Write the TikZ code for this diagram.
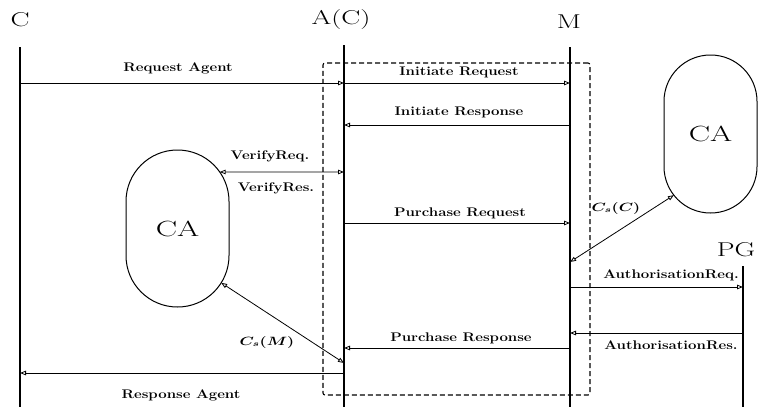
\documentclass[tikz,border=0pt]{standalone}
\usepackage{graphicx}
\usetikzlibrary{arrows.meta}
% horizontally stretched text
\newcommand{\sx}[2]{\scalebox{#1}[1]{#2}}
\tikzset{
  tip/.tip={Triangle[open,length=6pt,width=4.5pt]},
  msg/.style={line width=0.8pt,-tip},
  dmsg/.style={line width=0.8pt,tip-tip},
  life/.style={line width=1.3pt},
  grp/.style={draw,line width=1.1pt,dash pattern=on 5pt off 3pt,rounded corners=2pt,inner sep=0,outer sep=0},
  lbl/.style={font=\fontsize{12.5}{15}\selectfont\bfseries,inner sep=0},
  mlbl/.style={font=\fontsize{12}{14}\selectfont\boldmath,inner sep=0},
  ttl/.style={font=\fontsize{20}{24}\selectfont,inner sep=0},
  ca/.style={draw,line width=1pt,inner sep=0,outer sep=0,font=\fontsize{22}{26}\selectfont},
  arcc/.style={circle,inner sep=0,outer sep=0},
}
\begin{document}
\begin{tikzpicture}[x=1pt,y=-1pt]
\useasboundingbox (0,0) rectangle (759,407);

% participants
\node[ttl] (tC) at (20,20) {\sx{1.42}{C}};
\node[ttl] (tA) at (341,20) {\sx{1.42}{A(C)}};
\node[ttl] (tM) at (569,22) {\sx{1.42}{M}};
\node[ttl] (tP) at (736,250) {\sx{1.42}{PG}};

% lifelines
\coordinate (Ct) at (20,47);  \coordinate (Cb) at (20,407);
\coordinate (At) at (344,45); \coordinate (Ab) at (344,407);
\coordinate (Mt) at (570,47); \coordinate (Mb) at (570,407);
\coordinate (Pt) at (743,266); \coordinate (Pb) at (743,407);
\draw[life] (Ct) -- (Cb);
\draw[life] (At) -- (Ab);
\draw[life] (Mt) -- (Mb);
\draw[life] (Pt) -- (Pb);

% agent group
\node[grp,minimum width=267pt,minimum height=332pt] (grpbox) at (456.5,229) {};

% certificate authorities
\node[ca,minimum width=103pt,minimum height=157pt,rounded corners=51.4pt] (caL) at (177.5,228.5) {\sx{1.45}{CA}};
\node[arcc,minimum size=103pt] (caLt) at (177.5,201.5) {};
\node[arcc,minimum size=103pt] (caLb) at (177.5,255.5) {};
\node[ca,minimum width=93pt,minimum height=158pt,rounded corners=46.4pt] (caR) at (710.5,134) {\sx{1.45}{CA}};
\node[arcc,minimum size=93pt] (caRb) at (710.5,166.5) {};

% message rows
\coordinate (y1) at (0,83);
\coordinate (y2) at (0,125);
\coordinate (y3) at (0,172);
\coordinate (y4) at (0,223);
\coordinate (y5) at (0,287);
\coordinate (y6) at (0,333);
\coordinate (y7) at (0,348);
\coordinate (y8) at (0,373);
\coordinate (ycc) at (0,262);
\coordinate (ycm) at (0,363);

% messages
\draw[msg] (Ct |- y1) -- (At |- y1);
\draw[msg] (At |- y1) -- (Mt |- y1);
\draw[msg] (Mt |- y2) -- (At |- y2);
\draw[dmsg] (caLt.35) -- (At |- y3);
\draw[msg] (At |- y4) -- (Mt |- y4);
\draw[dmsg] (Mt |- ycc) -- (caRb.218);
\draw[msg] (Mt |- y5) -- (Pt |- y5);
\draw[msg] (Pt |- y6) -- (Mt |- y6);
\draw[msg] (Mt |- y7) -- (At |- y7);
\draw[dmsg] (caLb.-32) -- (At |- ycm);
\draw[msg] (At |- y8) -- (Ct |- y8);

% message labels
\node[lbl] (lRA) at (178,68) {\sx{1.2}{Request Agent}};
\node[lbl] (lIRq) at (459,72) {\sx{1.2}{Initiate Request}};
\node[lbl] (lIRs) at (459,112) {\sx{1.2}{Initiate Response}};
\node[lbl] (lVq) at (270,156) {\sx{1.2}{VerifyReq.}};
\node[lbl] (lVs) at (276,188) {\sx{1.2}{VerifyRes.}};
\node[lbl] (lPRq) at (460,213) {\sx{1.2}{Purchase Request}};
\node[mlbl] (lCC) at (616,208) {\sx{1.35}{$C_s(C)$}};
\node[lbl] (lAq) at (671,275) {\sx{1.2}{AuthorisationReq.}};
\node[lbl] (lAs) at (671,345) {\sx{1.2}{AuthorisationRes.}};
\node[lbl] (lPRs) at (461,338) {\sx{1.2}{Purchase Response}};
\node[mlbl] (lCM) at (267,342) {\sx{1.35}{$C_s(M)$}};
\node[lbl] (lRs) at (181,395) {\sx{1.2}{Response Agent}};
\end{tikzpicture}
\end{document}
